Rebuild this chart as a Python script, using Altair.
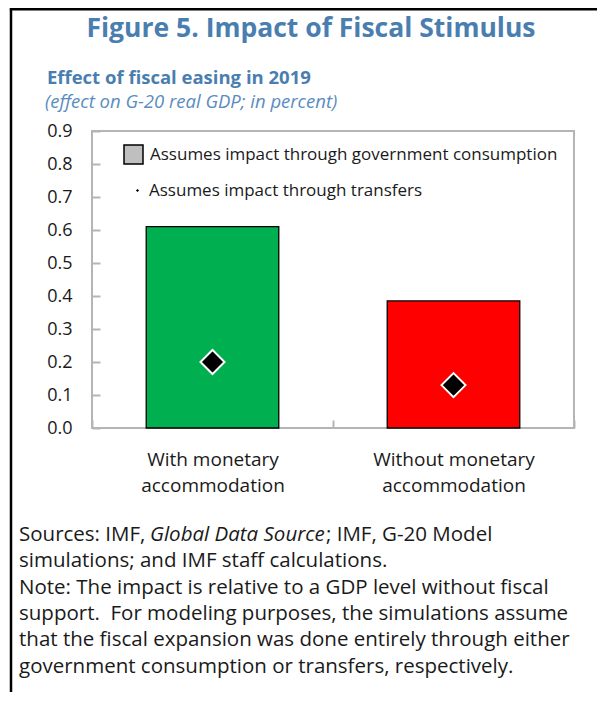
import altair as alt
import pandas as pd

# ---- data ----
categories = ["With monetary\naccommodation", "Without monetary\naccommodation"]
consumption = [0.61, 0.385]
transfers = [0.20, 0.13]
bar_colors = ["#00B050", "#FF0000"]
y_ticks = [0.0, 0.1, 0.2, 0.3, 0.4, 0.5, 0.6, 0.7, 0.8, 0.9]
series_consumption = "Assumes impact through government consumption"
series_transfers = "Assumes impact through transfers"

title_text = "Figure 5. Impact of Fiscal Stimulus"
subtitle_text = "Effect of fiscal easing in 2019"
unit_text = "(effect on G-20 real GDP; in percent)"
note_lines = [
    "simulations; and IMF staff calculations.",
    "Note: The impact is relative to a GDP level without fiscal",
    "support.\u00a0 For modeling purposes, the simulations assume",
    "that the fiscal expansion was done entirely through either",
    "government consumption or transfers, respectively.",
]

FONT = "Open Sans"
BLUE = "#4A7EB0"
TXT = "#1A1A1A"

df = pd.DataFrame({
    "category": categories,
    "consumption": consumption,
    "transfers": transfers,
    "s1": [series_consumption] * len(categories),
    "s2": [series_transfers] * len(categories),
})

x_axis = alt.Axis(
    title=None, domain=False, labelAngle=0, tickBand="extent",
    tickSize=8, offset=-8, tickColor="#B5B5B5", tickWidth=2,
    labelPadding=22, labelFont=FONT, labelFontSize=19, labelColor=TXT,
    labelLineHeight=26, labelExpr="split(datum.label, '\\n')",
)
x_scale = alt.Scale(paddingInner=0, paddingOuter=0)
y_scale = alt.Scale(domain=[0, 0.9], nice=False)
y_axis = alt.Axis(
    title=None, domain=False, values=y_ticks, format=".1f", grid=False,
    tickSize=8, offset=-8, tickColor="#B5B5B5", tickWidth=2, labelOverlap=False,
    labelPadding=20, labelFont=FONT, labelFontSize=18, labelColor=TXT,
)

bars = alt.Chart(df).mark_bar(
    width=alt.RelativeBandSize(0.55), strokeWidth=1.3
).encode(
    x=alt.X("category:N", sort=categories, scale=x_scale, axis=x_axis),
    y=alt.Y("consumption:Q", scale=y_scale, axis=y_axis),
    fill=alt.Fill("category:N", sort=categories,
                  scale=alt.Scale(domain=categories, range=bar_colors), legend=None),
    stroke=alt.Stroke(
        "s1:N", scale=alt.Scale(range=["black"]),
        legend=alt.Legend(
            title=None, orient="none", legendX=31, legendY=13, padding=0,
            symbolType="square", symbolSize=361, symbolFillColor="#BFBFBF",
            symbolStrokeColor="#4A6FA5", symbolStrokeWidth=1.5,
            labelFont=FONT, labelFontSize=17, labelColor=TXT, labelLimit=600,
            labelOffset=6,
        ),
    ),
)

points = alt.Chart(df).mark_point(
    filled=True, fill="black", stroke="white", strokeWidth=2, size=576, opacity=1
).encode(
    x=alt.X("category:N", sort=categories, scale=x_scale, axis=x_axis),
    y=alt.Y("transfers:Q", scale=y_scale, axis=y_axis),
    shape=alt.Shape(
        "s2:N", scale=alt.Scale(range=["diamond"]),
        legend=alt.Legend(
            title=None, orient="none", legendX=37, legendY=51, padding=0,
            symbolSize=10, symbolFillColor="black", symbolStrokeColor="black",
            symbolStrokeWidth=0,
            labelFont=FONT, labelFontSize=17, labelColor=TXT, labelLimit=600,
            labelOffset=3,
        ),
    ),
)


def txt(s, x, y, size, weight="normal", style="normal", color=TXT, align="left"):
    return alt.Chart(alt.Data(values=[{"t": s}])).mark_text(
        align=align, baseline="alphabetic", font=FONT, fontSize=size,
        fontWeight=weight, fontStyle=style, color=color,
    ).encode(x=alt.value(x), y=alt.value(y), text="t:N")


NOTE = 20.5
texts = [
    txt(title_text, 219, -94, 26.5, weight="bold", color=BLUE, align="center"),
    txt(subtitle_text, -45, -47, 18.5, weight="bold", color=BLUE),
    txt(unit_text, -47, -23, 18.5, style="italic", color="#5A8CC0"),
    txt("Sources: IMF,", -73, 410, NOTE),
    txt("Global Data Source", 58, 410, NOTE, style="italic"),
    txt("; IMF, G-20 Model", 234, 410, NOTE),
]
for i, line in enumerate(note_lines):
    texts.append(txt(line, -73, [436, 463, 489, 515, 542][i], NOTE))

border_v = alt.Chart(alt.Data(values=[{}])).mark_rule(color="black", strokeWidth=2.5).encode(
    x=alt.value(-81), y=alt.value(-122.5), y2=alt.value(564))
border_h = alt.Chart(alt.Data(values=[{}])).mark_rule(color="black", strokeWidth=2.5).encode(
    x=alt.value(-82.2), x2=alt.value(505), y=alt.value(-121.7))

chart = alt.layer(bars, points, *texts, border_v, border_h).resolve_legend(
    stroke="independent", shape="independent"
).properties(
    width=482, height=297,
    autosize=alt.AutoSizeParams(type="none"),
    padding={"left": 84, "top": 123, "right": 23, "bottom": 264},
).configure_view(stroke="#B5B5B5", strokeWidth=2)

chart.save("out.html", embed_options={"renderer": "svg", "actions": False})
